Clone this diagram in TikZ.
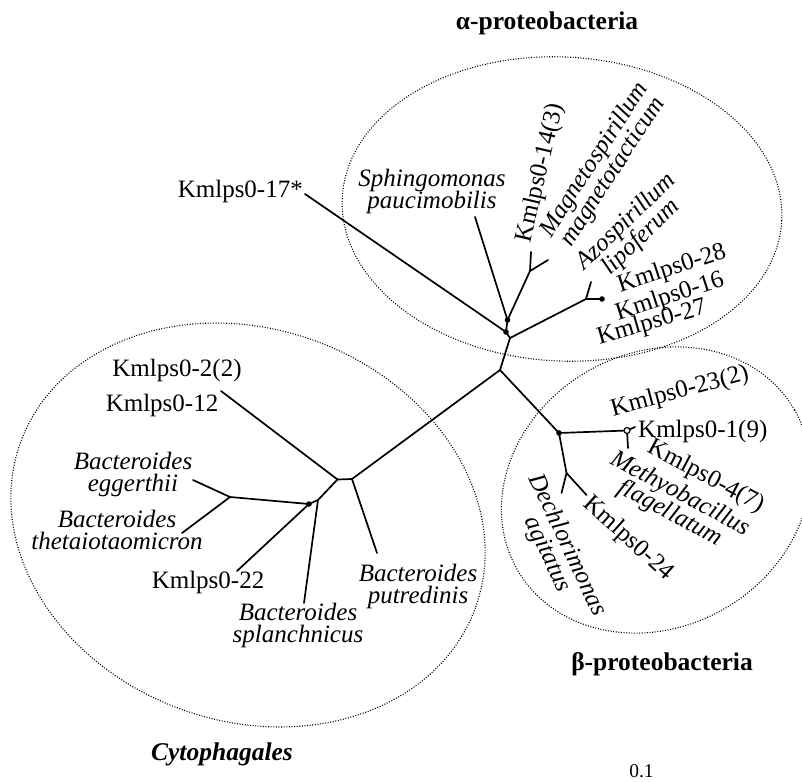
\documentclass[tikz,border=0pt]{standalone}
\usepackage{fontspec}
\setmainfont{Liberation Serif}
\newcommand\st{\rule[-5.5pt]{0pt}{23pt}}
\newcommand\tightls{\lineskiplimit=-30pt\relax}
\newcommand\labfont{\fontsize{25}{22}\selectfont\tightls}
\newcommand\spfont{\fontsize{25}{22}\selectfont\tightls\itshape}
\begin{document}
\begin{tikzpicture}[x=1pt,y=-1pt,
  br/.style={line width=1.7pt, line cap=round, line join=round},
  grp/.style={line width=1.1pt, dash pattern=on 1pt off 1.6pt},
  lab1/.style={inner sep=0pt, font=\labfont},
  lab/.style={inner sep=0pt, align=center, font=\labfont},
  sp/.style={inner sep=0pt, align=center, font=\spfont},
  ttl/.style={inner sep=0pt, font=\fontsize{25.5}{27}\selectfont\bfseries}]
\useasboundingbox (0,0) rectangle (802,781);

% group outlines
\draw[grp, rotate around={-3:(562,209)}] (562,209) ellipse [x radius=220, y radius=152];
\draw[grp, rotate around={30:(656,490)}] (656,490) ellipse [x radius=160, y radius=137];
\draw[grp, rotate around={-20:(248,525)}] (248,525) ellipse [x radius=242, y radius=196];

% tree points
\coordinate (C) at (500,370);
\coordinate (A) at (510,338);
\coordinate (D1) at (506,332);
\coordinate (D2) at (507.5,320);
\coordinate (L17) at (305,194);
\coordinate (Lsph) at (475,217);
\coordinate (F14) at (530,271);
\coordinate (L14) at (531,252);
\coordinate (Lmag) at (548,260);
\coordinate (FR) at (586,299);
\coordinate (Lazo) at (591,282);
\coordinate (Lkm) at (602,299);
\coordinate (B) at (559,433);
\node[draw, circle, inner sep=0pt, minimum size=6pt, line width=1.2pt] (O) at (627,430.5) {};
\coordinate (Lk1) at (635,427);
\coordinate (Lk4) at (628,448);
\coordinate (G) at (566.5,473);
\coordinate (Ldec) at (561.5,493);
\coordinate (L24) at (586.5,495);
\coordinate (P) at (352,479);
\coordinate (Q) at (337.5,479.5);
\coordinate (L12) at (221,391);
\coordinate (Lput) at (377,553);
\coordinate (R) at (318,500);
\coordinate (Lspl) at (304,603);
\coordinate (Dc) at (309,504);
\coordinate (E) at (230,497);
\coordinate (L22) at (237,571);
\coordinate (Legg) at (193,480);
\coordinate (Lth) at (182,533);

% branches
\draw[br] (C) -- (A);
\draw[br] (A) -- (D1);
\draw[br] (D1) -- (D2);
\draw[br] (L17) -- (D1);
\draw[br] (Lsph) -- (D2);
\draw[br] (D2) -- (F14);
\draw[br] (F14) -- (L14);
\draw[br] (F14) -- (Lmag);
\draw[br] (A) -- (FR);
\draw[br] (FR) -- (Lazo);
\draw[br] (FR) -- (Lkm);
\draw[br] (C) -- (B);
\draw[br] (B) -- (O);
\draw[br] (O) -- (Lk1);
\draw[br] (O) -- (Lk4);
\draw[br] (B) -- (G);
\draw[br] (G) -- (Ldec);
\draw[br] (G) -- (L24);
\draw[br] (C) -- (P);
\draw[br] (P) -- (Q);
\draw[br] (Q) -- (L12);
\draw[br] (P) -- (Lput);
\draw[br] (Q) -- (R);
\draw[br] (R) -- (Lspl);
\draw[br] (R) -- (Dc);
\draw[br] (Dc) -- (E);
\draw[br] (Dc) -- (L22);
\draw[br] (E) -- (Legg);
\draw[br] (E) -- (Lth);
\foreach \p in {D1,D2,B,Dc,Lkm} \fill (\p) circle (2.8);

% labels: alpha
\node[lab1, anchor=base east] (t17) at (303,197) {Kmlps0-17*};
\node[sp] (tsph) at (432,191) {\st Sphingomonas\\\st paucimobilis};
\node[lab, rotate=77] (t14) at (541,173) {\st Kmlps0-14(3)};
\node[sp, rotate=57] (tmag) at (604,166) {\st Magnetospirillum\\\st magnetotacticum};
\node[sp, rotate=44] (tazo) at (634,230) {\st Azospirillum\\\st lipoferum};
\node[lab, rotate=18] (t28) at (672,269) {\st Kmlps0-28};
\node[lab, rotate=18] (t16) at (670,297) {\st Kmlps0-16};
\node[lab, rotate=16] (t27) at (652,323) {\st Kmlps0-27};
% labels: beta
\node[lab, rotate=15] (t23) at (680,392) {\st Kmlps0-23(2)};
\node[lab1, anchor=base west] (t1) at (638,437) {Kmlps0-1(9)};
\node[lab, rotate=-28] (t4) at (706,477) {\st Kmlps0-4(7)};
\node[sp, rotate=-28] (tmet) at (675,504) {\st Methyobacillus\\\st flagellatum};
\node[lab, rotate=-42] (t24) at (628,539) {\st Kmlps0-24};
\node[sp, rotate=-65] (tdec) at (557,550) {\st Dechlorimonas\\\st agitatus};
% labels: Cytophagales
\node[lab1, anchor=base] (t2) at (177,376) {Kmlps0-2(2)};
\node[lab1, anchor=base] (t12) at (162,411) {Kmlps0-12};
\node[sp] (tegg) at (133,474) {\st Bacteroides\\\st eggerthii};
\node[sp] (tth) at (117,532) {\st Bacteroides\\\st thetaiotaomicron};
\node[lab1, anchor=base] (t22) at (208,588) {Kmlps0-22};
\node[sp] (tspl) at (298,625) {\st Bacteroides\\\st splanchnicus};
\node[sp] (tput) at (418,586) {\st Bacteroides\\\st putredinis};

% group titles and scale
\node[ttl, anchor=base] (ta) at (547,30) {α-proteobacteria};
\node[ttl, anchor=base] (tb) at (662,670) {β-proteobacteria};
\node[ttl, font=\fontsize{25.5}{27}\selectfont\bfseries\itshape, anchor=base] (tc) at (222,760) {Cytophagales};
\node[inner sep=0pt, font=\fontsize{19.5}{21}\selectfont, anchor=base] (ts) at (641.5,777) {0.1};
\end{tikzpicture}
\end{document}
